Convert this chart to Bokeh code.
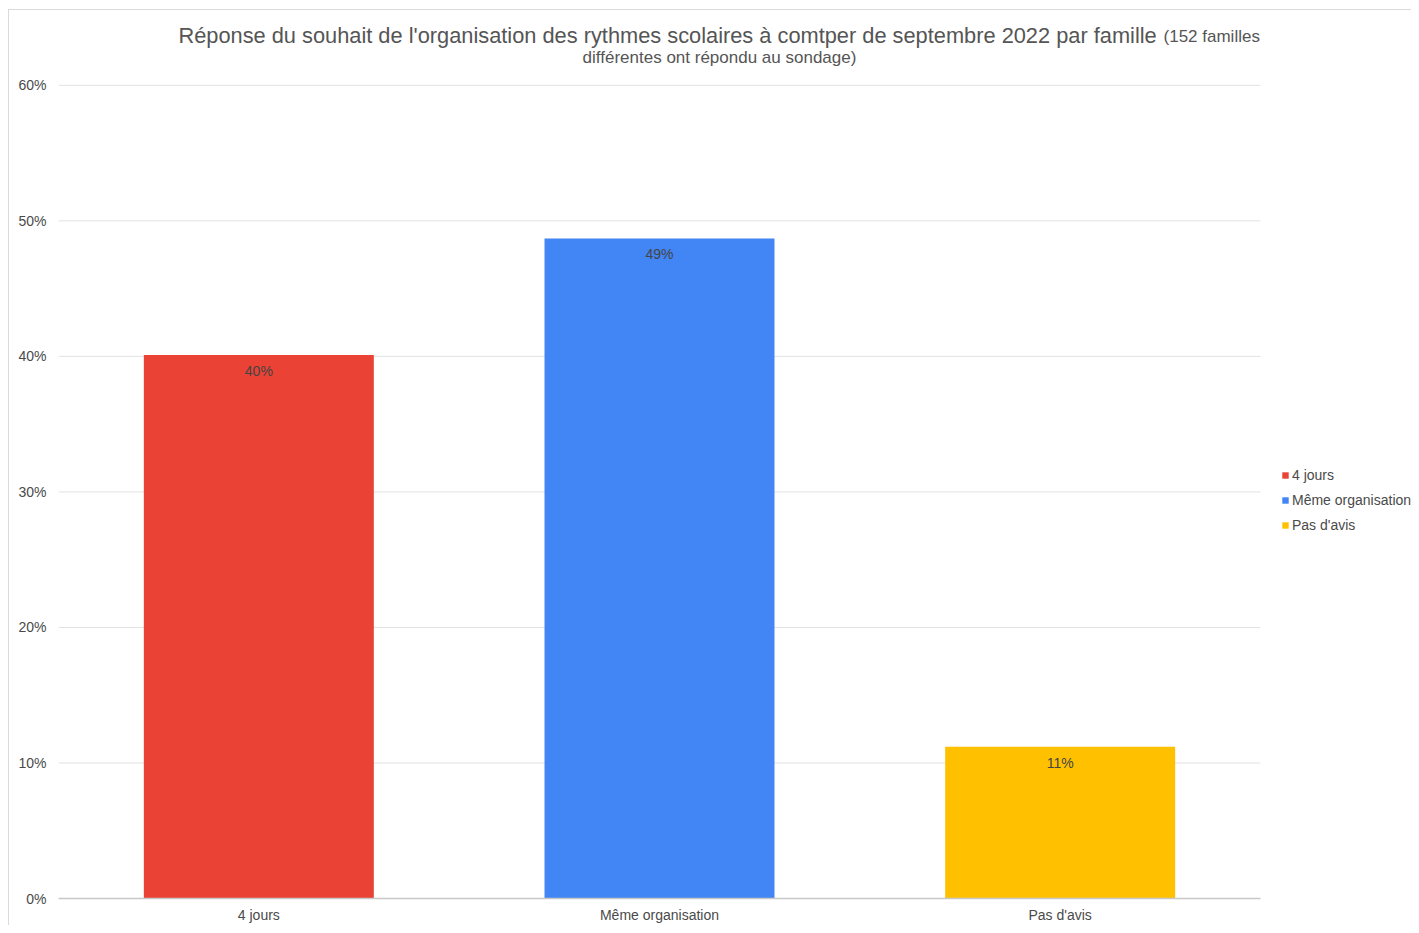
from bokeh.plotting import figure
from bokeh.models import (Range1d, NumeralTickFormatter, Label, Legend,
                          LegendItem, ColumnDataSource, FixedTicker)
from bokeh.core.properties import value
from bokeh.embed import file_html
from bokeh.resources import INLINE

categories = ["4 jours", "Même organisation", "Pas d'avis"]
shares = [0.401, 0.487, 0.112]
bar_labels = ["40%", "49%", "11%"]
colors = ["#EA4335", "#4285F4", "#FFC000"]
y_ticks = [0.0, 0.1, 0.2, 0.3, 0.4, 0.5, 0.6]
title_main = "Réponse du souhait de l'organisation des rythmes scolaires à comtper de septembre 2022 par famille"
title_small_1 = "(152 familles"
title_small_2 = "différentes ont répondu au sondage)"

FONT = "Liberation Sans"
TXT = "#4a4a4a"

n = len(categories)
xpos = [i + 0.5 for i in range(n)]          # slot centres on the category axis
src = ColumnDataSource(dict(x=xpos, cat=categories, val=shares, lab=bar_labels, col=colors))

# plot area: categories occupy 0..n; extra room on the right holds the legend
p = figure(x_range=Range1d(0, n + 0.3769), y_range=Range1d(0, 0.6552),
           width=1411, height=925, output_backend="svg", toolbar_location=None,
           min_border_left=58, min_border_right=0, min_border_top=10, min_border_bottom=25)
line = "#dadada"
p.styles = {"background": f"linear-gradient({line},{line}) 8px 9px / 1px calc(100% - 9px) no-repeat, "
                          f"linear-gradient({line},{line}) 8px 9px / calc(100% - 8px) 1px no-repeat, #ffffff"}
p.outline_line_color = None
p.background_fill_color = None
p.border_fill_color = None

# horizontal grid lines across the category area only
p.xgrid.grid_line_color = None
p.ygrid.grid_line_color = None
grid_src = ColumnDataSource(dict(y=y_ticks[1:], x0=[0] * (len(y_ticks) - 1), x1=[n] * (len(y_ticks) - 1)))
p.segment(x0="x0", x1="x1", y0="y", y1="y", source=grid_src, line_color="#e2e2e2", line_width=1)

r = p.vbar(x="x", top="val", width=0.574, color="col", source=src, line_color=None)

p.text(x="x", y="val", text="lab", source=src, text_align="center", text_baseline="middle",
       y_offset=16, text_font=value(FONT), text_font_size="14px", text_color="#444444")

# axes
p.yaxis.ticker = FixedTicker(ticks=y_ticks)
p.yaxis.formatter = NumeralTickFormatter(format="0%")
p.yaxis.axis_line_color = None
p.yaxis.major_tick_line_color = None
p.yaxis.major_tick_out = 0
p.yaxis.major_tick_in = 0
p.yaxis.minor_tick_line_color = None
p.yaxis.major_label_standoff = 12
p.yaxis.major_label_text_font = FONT
p.yaxis.major_label_text_font_size = "14px"
p.yaxis.major_label_text_color = TXT

p.xaxis.ticker = FixedTicker(ticks=xpos)
p.xaxis.major_label_overrides = {x: c for x, c in zip(xpos, categories)}
p.xaxis.bounds = (0, n)
p.xaxis.axis_line_color = "#c8c8c8"
p.xaxis.axis_line_width = 1.5
p.xaxis.major_tick_line_color = None
p.xaxis.major_tick_out = 0
p.xaxis.major_tick_in = 0
p.xaxis.minor_tick_line_color = None
p.xaxis.major_label_standoff = 8
p.xaxis.major_label_text_font = FONT
p.xaxis.major_label_text_font_size = "14px"
p.xaxis.major_label_text_color = TXT

# title (inside the extended plot area, above the 60% line)
p.add_layout(Label(x=2.741, y=0.6, y_offset=50, text=title_main, text_align="right",
                   text_baseline="middle", text_font=FONT, text_font_size="21.8px",
                   text_color="#555555"))
p.add_layout(Label(x=2.758, y=0.6, y_offset=49, text=title_small_1, text_align="left",
                   text_baseline="middle", text_font=FONT, text_font_size="17px",
                   text_color="#555555"))
p.add_layout(Label(x=1.6497, y=0.6, y_offset=28, text=title_small_2, text_align="center",
                   text_baseline="middle", text_font=FONT, text_font_size="17px",
                   text_color="#555555"))

# legend
items = [LegendItem(label=c, renderers=[r], index=i) for i, c in enumerate(categories)]
legend = Legend(items=items, location=(1223, 365), orientation="vertical",
                glyph_width=8, glyph_height=8, label_standoff=3, spacing=8,
                label_height=17, padding=0, margin=0, border_line_color=None,
                background_fill_alpha=0, label_text_font=FONT,
                label_text_font_size="14px", label_text_color=TXT)
p.add_layout(legend, "center")

open("out.html", "w").write(file_html(p, INLINE))
